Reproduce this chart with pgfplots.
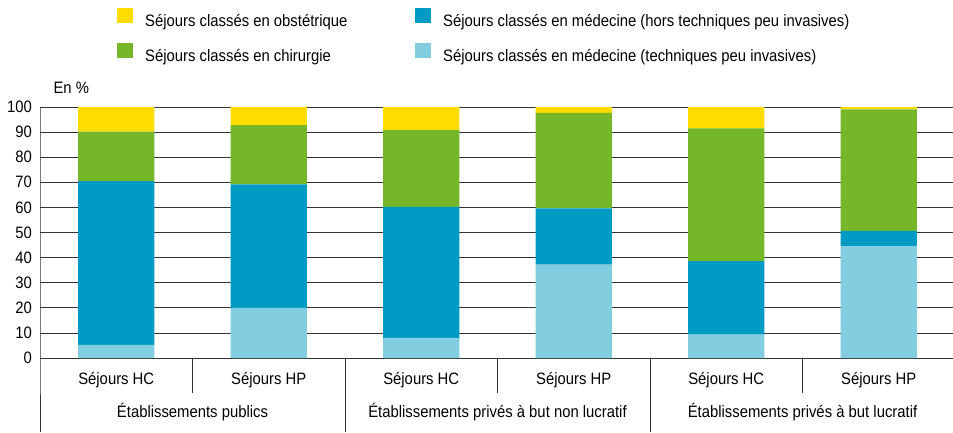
\documentclass[border=0pt]{standalone}
\usepackage{pgfplots}
\pgfplotsset{compat=1.18}
\usepackage{pgfplotstable}
\usepackage{fontspec}
\setmainfont[FakeStretch=0.9]{Liberation Sans}
\definecolor{cobst}{HTML}{FFDD00}
\definecolor{cchir}{HTML}{76B72A}
\definecolor{chors}{HTML}{009BC4}
\definecolor{ctpi}{HTML}{83CDE1}
\definecolor{cline}{HTML}{333333}
\newcommand\fs{\fontsize{16.5pt}{19pt}\selectfont}
\pgfplotstableread{
x tpi hors chir obst
0 5.2 65.3 19.7 9.8
1 20.0 49.2 23.6 7.2
2 7.8 52.4 30.6 9.2
3 37.2 22.4 38.1 2.3
4 9.3 29.3 52.9 8.5
5 44.7 5.9 48.5 0.9
}\data
\pgfplotsset{sqlegend/.style={legend image code/.code={\fill[##1] (0pt,-1.5pt) rectangle (16pt,13.5pt);}}}
\begin{document}
\begin{tikzpicture}
\begin{axis}[
  scale only axis, width=915pt, height=251pt,
  xmin=-0.5, xmax=5.5, ymin=0, ymax=100,
  ybar stacked, bar width=0.5,
  xtick=\empty,
  ytick={0,10,...,100},
  ymajorgrids, grid style={cline, line width=0.8pt},
  axis line style={draw=none},
  major tick length=0pt,
  /pgf/number format/assume math mode=true,
  yticklabel style={font=\fs, inner sep=0pt, anchor=east, xshift=-8pt},
  clip=false,
  legend columns=2, transpose legend, reverse legend,
  legend cell align=left,
  legend style={draw=none, fill=none, at={(axis description cs:0.0842,1.396)}, anchor=north west,
    font=\fs, inner sep=0pt, row sep=15pt, nodes={inner sep=0pt},
    /tikz/every odd column/.append style={column sep=12pt}},
]
\addplot[fill=ctpi, draw=none, sqlegend] table[x=x,y=tpi]{\data};
\addlegendentry{Séjours classés en médecine (techniques peu invasives)}
\addplot[fill=chors, draw=none, sqlegend] table[x=x,y=hors]{\data};
\addlegendentry{Séjours classés en médecine (hors techniques peu invasives)}
\addplot[fill=cchir, draw=none, sqlegend] table[x=x,y=chir]{\data};
\addlegendentry{\makebox[270pt][l]{Séjours classés en chirurgie}}
\addplot[fill=cobst, draw=none, sqlegend] table[x=x,y=obst]{\data};
\addlegendentry{\makebox[270pt][l]{Séjours classés en obstétrique}}

\coordinate (BL) at (axis cs:-0.5,0);
\draw[cline, line width=0.8pt] (axis cs:-0.5,100) -- (axis cs:-0.5,0) -- ++(0pt,-74pt);
\draw[cline, line width=0.8pt] (axis cs:1.5,0) -- ++(0pt,-74pt);
\draw[cline, line width=0.8pt] (axis cs:3.5,0) -- ++(0pt,-74pt);
\draw[cline, line width=0.8pt] (axis cs:0.5,0) -- ++(0pt,-35pt);
\draw[cline, line width=0.8pt] (axis cs:2.5,0) -- ++(0pt,-35pt);
\draw[cline, line width=0.8pt] (axis cs:4.5,0) -- ++(0pt,-35pt);

\node[font=\fs] at (axis cs:0,0) [yshift=-22pt] {Séjours HC};
\node[font=\fs] at (axis cs:1,0) [yshift=-22pt] {Séjours HP};
\node[font=\fs] at (axis cs:2,0) [yshift=-22pt] {Séjours HC};
\node[font=\fs] at (axis cs:3,0) [yshift=-22pt] {Séjours HP};
\node[font=\fs] at (axis cs:4,0) [yshift=-22pt] {Séjours HC};
\node[font=\fs] at (axis cs:5,0) [yshift=-22pt] {Séjours HP};
\node[font=\fs] at (axis cs:0.5,0) [yshift=-54pt] {Établissements publics};
\node[font=\fs] at (axis cs:2.5,0) [yshift=-54pt] {Établissements privés à but non lucratif};
\node[font=\fs] at (axis cs:4.5,0) [yshift=-54pt] {Établissements privés à but lucratif};
\node[font=\fs, anchor=west] at (axis cs:-0.5,100) [xshift=10pt, yshift=19pt] {En \%};
\end{axis}
\pgfresetboundingbox
\path[use as bounding box] (BL) ++(-40pt,-74pt) rectangle ++(953pt,432pt);
\end{tikzpicture}
\end{document}
